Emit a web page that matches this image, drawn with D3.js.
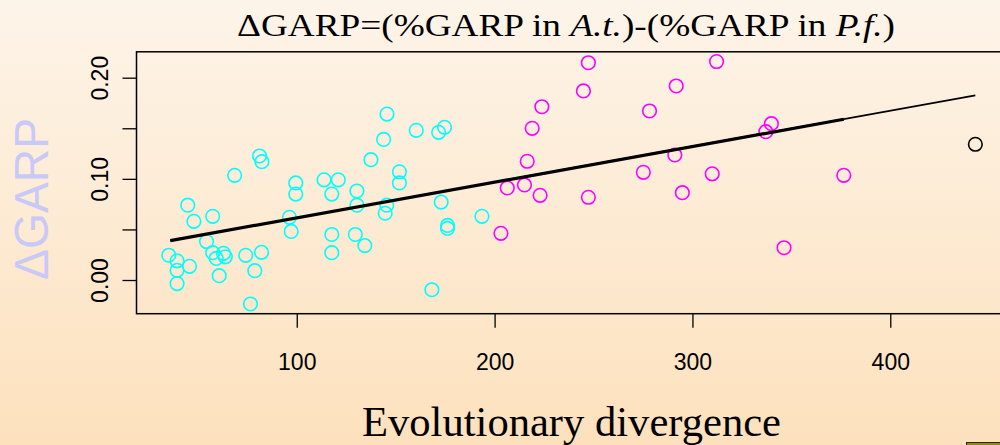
<!DOCTYPE html>
<html>
<head>
<meta charset="utf-8">
<script src="https://cdn.jsdelivr.net/npm/d3@7"></script>
<style>
  html, body { margin: 0; padding: 0; }
  body { width: 1000px; height: 445px; overflow: hidden; }
</style>
</head>
<body>
<svg id="chart" width="1000" height="445"></svg>
<script>
// ---- data ----
const cyanX = [145.6,160.4,171.7,174.7,143.9,137.5,151.9,151.9,99.5,99.5,113.8,121.0,117.7,130.4,130.4,145.5,144.7,173.0,96.3,97.2,117.7,129.6,134.4,117.7,176.2,176.2,193.6,168.3,81.2,82.4,68.6,44.9,48.0,57.5,54.4,35.3,39.5,45.8,39.5,39.5,57.5,59.3,63.0,63.9,60.8,74.2,82.2,78.8,76.6];
const cyanY = [0.164,0.148,0.146,0.151,0.139,0.119,0.107,0.096,0.096,0.085,0.099,0.099,0.085,0.088,0.074,0.074,0.066,0.077,0.062,0.048,0.045,0.045,0.034,0.027,0.054,0.051,0.063,-0.0096,0.1226,0.117,0.1035,0.074,0.058,0.063,0.038,0.0245,0.019,0.0135,0.0096,-0.0035,0.027,0.0213,0.0264,0.0229,0.0043,0.0244,0.0274,0.0092,-0.0237];
const magX = [247.4,244.9,223.9,219.0,216.5,278.3,291.8,312.2,206.4,215.1,223.0,247.4,275.2,291.1,294.9,310.0,203.2,339.9,337.1,376.5,346.3];
const magY = [0.2148,0.1869,0.1713,0.150,0.1174,0.1671,0.1918,0.216,0.091,0.094,0.0837,0.0818,0.1065,0.1236,0.0863,0.105,0.0462,0.1545,0.1466,0.1035,0.0319];
const blackX = [443.0];
const blackY = [0.1342];
const fitAllX = [36.1, 443.0];
const fitAllY = [0.0389, 0.1826];
const fitSubX = [36.1, 376.5];
const fitSubY = [0.0389, 0.1589];
const xTicks = [100, 200, 300, 400];
const yTicks = [0.00, 0.05, 0.10, 0.15, 0.20];
const yTickLabels = ["0.00", "", "0.10", "", "0.20"];
const titleParts = [
  {t: "\u0394GARP=(%GARP in ", i: false},
  {t: "A.t.", i: true},
  {t: ")-(%GARP in ", i: false},
  {t: "P.f.", i: true},
  {t: ")", i: false}
];
const xLabel = "Evolutionary divergence";
const yLabel = "\u0394GARP";

// ---- layout ----
const svg = d3.select("#chart");
const L = 136.5, R = 1007.6, T = 51.8, B = 313.7;

const defs = svg.append("defs");
const grad = defs.append("linearGradient").attr("id", "bg")
  .attr("x1", 0).attr("y1", 0).attr("x2", 0).attr("y2", 1);
grad.append("stop").attr("offset", "0%").attr("stop-color", "#fdf4e9");
grad.append("stop").attr("offset", "100%").attr("stop-color", "#fde1bd");
svg.append("rect").attr("width", 1000).attr("height", 445).attr("fill", "url(#bg)");

const x = d3.scaleLinear().domain([19.0, 459.3]).range([L, R]);
const y = d3.scaleLinear().domain([-0.0333, 0.2256]).range([B, T]);

// axes
const xAxis = svg.append("g").attr("transform", `translate(0,${B})`)
  .call(d3.axisBottom(x).tickValues(xTicks).tickSize(14).tickPadding(28).tickFormat(d3.format("d")));
xAxis.select(".domain").remove();
xAxis.selectAll("line").attr("stroke", "#000").attr("stroke-width", 1.3);
xAxis.selectAll("text").attr("font-family", "'Liberation Sans', Arial, sans-serif")
  .attr("font-size", 23).attr("fill", "#000").attr("dy", 0).attr("y", 56);

const yAxis = svg.append("g").attr("transform", `translate(${L},0)`)
  .call(d3.axisLeft(y).tickValues(yTicks).tickSize(14).tickFormat((d, i) => yTickLabels[i]));
yAxis.select(".domain").remove();
yAxis.selectAll("line").attr("stroke", "#000").attr("stroke-width", 1.3);
yAxis.selectAll("text").attr("font-family", "'Liberation Sans', Arial, sans-serif")
  .attr("font-size", 23).attr("fill", "#000")
  .attr("x", 0).attr("dy", 0).attr("text-anchor", "middle")
  .attr("transform", "translate(-29,0) rotate(-90)");

// box
svg.append("rect").attr("x", L).attr("y", T).attr("width", R - L).attr("height", B - T)
  .attr("fill", "none").attr("stroke", "#000").attr("stroke-width", 1.5);

// points
function drawPts(xs, ys, col) {
  svg.append("g").selectAll("circle").data(xs.map((v, i) => [v, ys[i]])).join("circle")
    .attr("cx", d => x(d[0])).attr("cy", d => y(d[1])).attr("r", 6.8)
    .attr("fill", "none").attr("stroke", col).attr("stroke-width", 1.6);
}
drawPts(cyanX, cyanY, "#00ffff");
drawPts(magX, magY, "#ff00ff");
drawPts(blackX, blackY, "#000000");

// fit lines
const line = d3.line().x(d => x(d[0])).y(d => y(d[1]));
svg.append("path").attr("d", line(fitAllX.map((v, i) => [v, fitAllY[i]])))
  .attr("stroke", "#000").attr("stroke-width", 1.8).attr("fill", "none");
svg.append("path").attr("d", line(fitSubX.map((v, i) => [v, fitSubY[i]])))
  .attr("stroke", "#000").attr("stroke-width", 3.2).attr("fill", "none");

// title
const title = svg.append("text").attr("x", 566).attr("y", 36).attr("text-anchor", "middle")
  .attr("font-family", "'Liberation Serif', 'Times New Roman', serif").attr("font-size", 32)
  .attr("fill", "#000").attr("textLength", 658).attr("lengthAdjust", "spacingAndGlyphs");
titleParts.forEach(p => title.append("tspan").text(p.t).attr("font-style", p.i ? "italic" : "normal"));

// x label
svg.append("text").attr("x", 571.5).attr("y", 436).attr("text-anchor", "middle")
  .attr("font-family", "'Liberation Serif', 'Times New Roman', serif").attr("font-size", 43)
  .attr("fill", "#000").attr("textLength", 419).attr("lengthAdjust", "spacingAndGlyphs")
  .text(xLabel);

// y label
svg.append("text").attr("transform", "translate(48,199) rotate(-90)").attr("text-anchor", "middle")
  .attr("font-family", "'Liberation Sans', Arial, sans-serif").attr("font-size", 48)
  .attr("fill", "#c9c9f8").attr("textLength", 162).attr("lengthAdjust", "spacingAndGlyphs")
  .text(yLabel);

// small corner box
svg.append("rect").attr("x", 966.5).attr("y", 442.5).attr("width", 40).attr("height", 10)
  .attr("fill", "#8b8b12").attr("stroke", "#2a2a00").attr("stroke-width", 1);
</script>
</body>
</html>
